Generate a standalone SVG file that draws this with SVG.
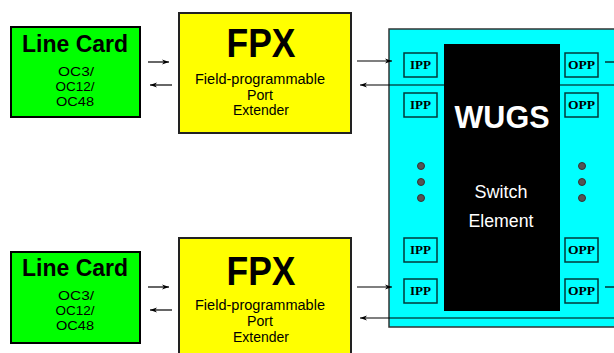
<svg xmlns="http://www.w3.org/2000/svg" width="614" height="353" viewBox="0 0 614 353">
<defs>
<style>
.lc{fill:#00ff00;stroke:#000;stroke-width:2}
.fpx{fill:#ffff00;stroke:#222;stroke-width:2}
.t{font-family:"Liberation Sans",Arial,sans-serif;fill:#000;text-anchor:middle}
.b{font-weight:bold}
.oc{font-size:13px}
.port{fill:none;stroke:#003a3a;stroke-width:1.5}
.pt{font-family:"Liberation Serif","Times New Roman",serif;font-weight:bold;font-size:13px;fill:#000;text-anchor:middle}
.w{fill:#fff}
.c{stroke:#000;stroke-width:1.2;fill:none}
.dot{fill:#555;stroke:#333;stroke-width:1}
</style>
<marker id="ah" markerWidth="8" markerHeight="6" refX="7" refY="3" orient="auto" markerUnits="userSpaceOnUse">
<path d="M0,0.5 L7,3 L0,5.5 L2,3 Z" fill="#000"/>
</marker>
</defs>
<rect width="614" height="353" fill="#fff"/>
<g id="wugs">
<rect x="389" y="29" width="240" height="298" fill="#00ffff" stroke="#333" stroke-width="1.5"/>
<rect x="444" y="44" width="116" height="267" fill="#000"/>
<text class="t b w" x="502" y="128" font-size="32" textLength="95" lengthAdjust="spacingAndGlyphs">WUGS</text>
<text class="t w" x="501" y="198" font-size="18" textLength="53" lengthAdjust="spacingAndGlyphs">Switch</text>
<text class="t w" x="501" y="227" font-size="18" textLength="65" lengthAdjust="spacingAndGlyphs">Element</text>
<circle class="dot" cx="421" cy="166" r="3.5"/>
<circle class="dot" cx="421" cy="182" r="3.5"/>
<circle class="dot" cx="421" cy="198" r="3.5"/>
<circle class="dot" cx="582" cy="166" r="3.5"/>
<circle class="dot" cx="582" cy="182" r="3.5"/>
<circle class="dot" cx="582" cy="198" r="3.5"/>
</g>
<g id="ipp1"><rect class="port" x="404" y="53" width="33" height="24"/><text class="pt" x="420.5" y="69" textLength="21" lengthAdjust="spacingAndGlyphs">IPP</text></g>
<g id="ipp2"><rect class="port" x="404" y="93" width="33" height="24"/><text class="pt" x="420.5" y="109" textLength="21" lengthAdjust="spacingAndGlyphs">IPP</text></g>
<g id="ipp3"><rect class="port" x="404" y="238" width="33" height="24"/><text class="pt" x="420.5" y="254" textLength="21" lengthAdjust="spacingAndGlyphs">IPP</text></g>
<g id="ipp4"><rect class="port" x="404" y="279" width="33" height="24"/><text class="pt" x="420.5" y="295" textLength="21" lengthAdjust="spacingAndGlyphs">IPP</text></g>
<g id="opp1"><rect class="port" x="565" y="53" width="33" height="24"/><text class="pt" x="581.5" y="69" textLength="27" lengthAdjust="spacingAndGlyphs">OPP</text></g>
<g id="opp2"><rect class="port" x="565" y="93" width="33" height="24"/><text class="pt" x="581.5" y="109" textLength="27" lengthAdjust="spacingAndGlyphs">OPP</text></g>
<g id="opp3"><rect class="port" x="565" y="238" width="33" height="24"/><text class="pt" x="581.5" y="254" textLength="27" lengthAdjust="spacingAndGlyphs">OPP</text></g>
<g id="opp4"><rect class="port" x="565" y="279" width="33" height="24"/><text class="pt" x="581.5" y="295" textLength="27" lengthAdjust="spacingAndGlyphs">OPP</text></g>
<g id="linecard1">
<rect class="lc" x="11" y="27" width="129" height="90"/>
<text class="t b" x="75" y="52" font-size="23" textLength="106" lengthAdjust="spacingAndGlyphs">Line Card</text>
<text class="t oc" x="76" y="76" textLength="36" lengthAdjust="spacingAndGlyphs">OC3/</text>
<text class="t oc" x="75" y="91" textLength="39" lengthAdjust="spacingAndGlyphs">OC12/</text>
<text class="t oc" x="75" y="106" textLength="38" lengthAdjust="spacingAndGlyphs">OC48</text>
</g>
<g id="linecard2">
<rect class="lc" x="11" y="252" width="129" height="91"/>
<text class="t b" x="75" y="276" font-size="23" textLength="106" lengthAdjust="spacingAndGlyphs">Line Card</text>
<text class="t oc" x="76" y="300" textLength="36" lengthAdjust="spacingAndGlyphs">OC3/</text>
<text class="t oc" x="75" y="315" textLength="39" lengthAdjust="spacingAndGlyphs">OC12/</text>
<text class="t oc" x="75" y="330" textLength="38" lengthAdjust="spacingAndGlyphs">OC48</text>
</g>
<g id="fpx1">
<rect class="fpx" x="179" y="13" width="172" height="120"/>
<text class="t b" x="261" y="57" font-size="40" textLength="69" lengthAdjust="spacingAndGlyphs">FPX</text>
<text class="t" x="260" y="84" font-size="14" textLength="130" lengthAdjust="spacingAndGlyphs">Field-programmable</text>
<text class="t" x="260" y="100" font-size="14" textLength="26" lengthAdjust="spacingAndGlyphs">Port</text>
<text class="t" x="261" y="115" font-size="14" textLength="56" lengthAdjust="spacingAndGlyphs">Extender</text>
</g>
<g id="fpx2">
<rect class="fpx" x="179" y="238" width="172" height="125"/>
<text class="t b" x="261" y="285" font-size="40" textLength="69" lengthAdjust="spacingAndGlyphs">FPX</text>
<text class="t" x="260" y="310" font-size="14" textLength="130" lengthAdjust="spacingAndGlyphs">Field-programmable</text>
<text class="t" x="260" y="326" font-size="14" textLength="26" lengthAdjust="spacingAndGlyphs">Port</text>
<text class="t" x="261" y="342" font-size="14" textLength="56" lengthAdjust="spacingAndGlyphs">Extender</text>
</g>
<g id="connectors">
<line class="c" x1="148" y1="62" x2="169" y2="62" marker-end="url(#ah)"/>
<line class="c" x1="172" y1="85" x2="150" y2="85" marker-end="url(#ah)"/>
<line class="c" x1="148" y1="287" x2="169" y2="287" marker-end="url(#ah)"/>
<line class="c" x1="172" y1="310" x2="150" y2="310" marker-end="url(#ah)"/>
<line class="c" x1="357" y1="61" x2="392" y2="61" marker-end="url(#ah)"/>
<line class="c" x1="614" y1="85" x2="360" y2="85" marker-end="url(#ah)"/>
<line class="c" x1="357" y1="287" x2="392" y2="287" marker-end="url(#ah)"/>
<line class="c" x1="614" y1="318" x2="360" y2="318" marker-end="url(#ah)"/>
<line class="c" x1="605" y1="62" x2="614" y2="62"/>
<line class="c" x1="605" y1="287" x2="614" y2="287"/>
</g>
</svg>
